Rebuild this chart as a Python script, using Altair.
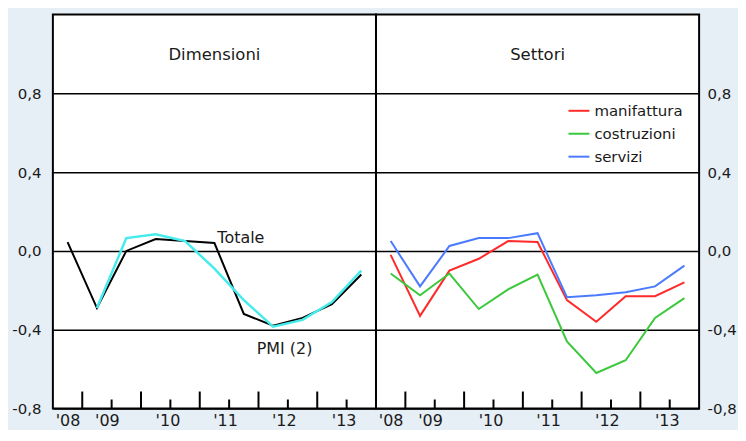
import altair as alt
import pandas as pd

# ---- data ----
periods = [2008.75, 2009.25, 2009.75, 2010.25, 2010.75, 2011.25,
           2011.75, 2012.25, 2012.75, 2013.25, 2013.75]
totale = [0.045, -0.29, 0.0, 0.06, 0.05, 0.04, -0.32, -0.38, -0.34, -0.27, -0.12]
pmi = [None, -0.29, 0.065, 0.085, 0.05, -0.09, -0.25, -0.385, -0.35, -0.26, -0.10]

manifattura = [-0.02, -0.33, -0.10, -0.04, 0.05, 0.045, -0.25, -0.36, -0.23, -0.23, -0.16]
costruzioni = [-0.115, -0.225, -0.115, -0.295, -0.195, -0.12, -0.46, -0.62, -0.555, -0.34, -0.24]
servizi = [0.05, -0.18, 0.025, 0.065, 0.065, 0.09, -0.235, -0.225, -0.21, -0.18, -0.075]

series_names = ["manifattura", "costruzioni", "servizi"]
series_colors = ["#ff2a2a", "#3cc83c", "#4a7bff"]

y_ticks = [-0.8, -0.4, 0.0, 0.4, 0.8]
major_ticks = [2009, 2010, 2011, 2012, 2013]
minor_ticks = [2009.5, 2010.5, 2011.5, 2012.5, 2013.5]
x_label_pos = [2008.75, 2009.42, 2010.45, 2011.43, 2012.43, 2013.45]

panel_titles = ["Dimensioni", "Settori"]
annot_text = ["Totale", "PMI (2)"]
annot_x = [2011.3, 2011.97]
annot_y = [0.067, -0.50]

# ---- layout ----
W, H = 324, 395
FONT = "DejaVu Sans"
TXT = "#1a1a1a"

xscale = alt.Scale(domain=[2008.5, 2014], nice=False, zero=False)
yscale = alt.Scale(domain=[-0.8, 1.2], nice=False, zero=False)

y_label_expr = "(datum.value < 0 ? '-' : '') + replace(format(abs(datum.value), '.1f'), '.', ',')"
x_label_expr = "\"'\" + substring(toString(floor(datum.value)), 2, 4)"

xaxis = alt.Axis(values=x_label_pos, labelExpr=x_label_expr, ticks=False, domain=False,
                 grid=False, title=None, labelFontSize=16, labelPadding=4,
                 labelFlush=False, labelOverlap=False, labelColor=TXT, labelFont=FONT)


def yaxis(orient, pad):
    return alt.Axis(values=y_ticks, labelExpr=y_label_expr, orient=orient, grid=True,
                    gridColor="black", gridWidth=1.5, gridOpacity=1, ticks=False,
                    domain=False, title=None, labelFontSize=15, labelPadding=pad,
                    labelColor=TXT, labelFont=FONT)


def tick_layers():
    major = alt.Chart(pd.DataFrame({"t": major_ticks})).mark_rule(
        color="black", strokeWidth=2).encode(
        x=alt.X("t:Q", scale=xscale, title=None), y=alt.value(H), y2=alt.value(H - 17))
    minor = alt.Chart(pd.DataFrame({"t": minor_ticks})).mark_rule(
        color="black", strokeWidth=2).encode(
        x=alt.X("t:Q", scale=xscale, title=None), y=alt.value(H), y2=alt.value(H - 9))
    return [major, minor]


def title_layer(label):
    return alt.Chart(pd.DataFrame({"label": [label]})).mark_text(
        fontSize=16.5, font=FONT, color=TXT, baseline="middle", align="center").encode(
        x=alt.value(W / 2), y=alt.value(41), text="label:N")


# ---- left panel ----
df_left = pd.DataFrame({"t": periods, "Totale": totale, "PMI": pmi})

black = alt.Chart(df_left).mark_line(color="black", strokeWidth=2).encode(
    x=alt.X("t:Q", scale=xscale, axis=xaxis),
    y=alt.Y("Totale:Q", scale=yscale, axis=yaxis("left", 12)))
cyan = alt.Chart(df_left).mark_line(color="#46ecec", strokeWidth=2.5).encode(
    x=alt.X("t:Q", scale=xscale, title=None),
    y=alt.Y("PMI:Q", scale=yscale, title=None))
annots = alt.Chart(pd.DataFrame({"t": annot_x, "v": annot_y, "label": annot_text})).mark_text(
    fontSize=16, font=FONT, color=TXT, align="left", baseline="middle").encode(
    x=alt.X("t:Q", scale=xscale, title=None),
    y=alt.Y("v:Q", scale=yscale, title=None), text="label:N")

left = alt.layer(black, cyan, annots, *tick_layers(), title_layer(panel_titles[0])).properties(
    width=W, height=H)

# ---- right panel ----
rows = []
for name, vals in zip(series_names, [manifattura, costruzioni, servizi]):
    for t, v in zip(periods, vals):
        rows.append({"t": t, "series": name, "value": v})
df_right = pd.DataFrame(rows)

lines = alt.Chart(df_right).mark_line(strokeWidth=2).encode(
    x=alt.X("t:Q", scale=xscale, axis=xaxis),
    y=alt.Y("value:Q", scale=yscale, axis=yaxis("right", 8)),
    color=alt.Color("series:N", scale=alt.Scale(domain=series_names, range=series_colors),
                    sort=series_names,
                    legend=alt.Legend(orient="none", legendX=W + 192, legendY=85, title=None,
                                      symbolType="stroke", symbolSize=441,
                                      symbolStrokeWidth=2, labelFontSize=15, labelFont=FONT,
                                      labelColor=TXT, labelOffset=4, rowPadding=3,
                                      padding=0)))

right = alt.layer(lines, *tick_layers(), title_layer(panel_titles[1])).properties(
    width=W, height=H)

chart = alt.hconcat(left, right, spacing=0, bounds="flush").properties(
    padding={"left": 2, "top": 5, "right": 0, "bottom": 0},
    background="#e6eef6",
).configure(font=FONT).configure_view(stroke="black", strokeWidth=2, fill="white")

chart.save("out.html", embed_options={"renderer": "svg", "actions": False})
